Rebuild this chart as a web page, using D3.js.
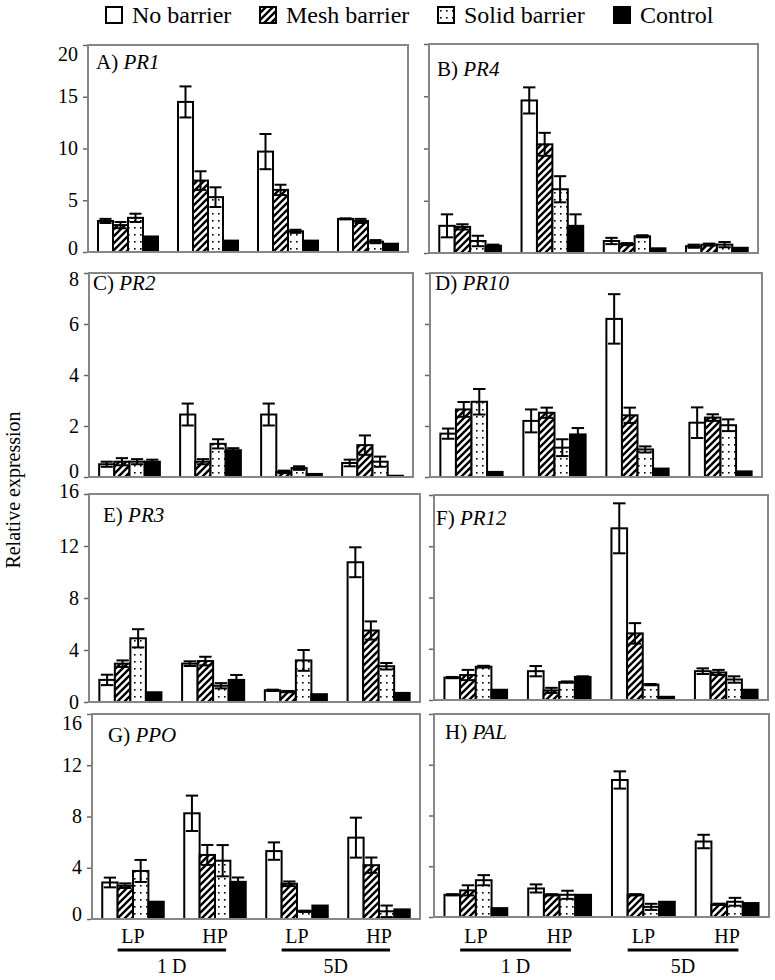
<!DOCTYPE html>
<html>
<head>
<meta charset="utf-8">
<script src="https://cdnjs.cloudflare.com/ajax/libs/d3/7.8.5/d3.min.js"></script>
<style>
body { margin: 0; background: #fff; }
svg { display: block; font-family: "Liberation Serif", "Times New Roman", serif; }
</style>
</head>
<body>
<div id="chart"></div>
<script>
var treatments = ["No barrier", "Mesh barrier", "Solid barrier", "Control"];
var groups = ["LP 1D", "HP 1D", "LP 5D", "HP 5D"];
var groupLabels = ["LP", "HP", "LP", "HP"];
var dayLabels = ["1 D", "5D"];

// rows = groups (LP 1D, HP 1D, LP 5D, HP 5D), columns = treatments
var pr1    = [[3.0, 2.6, 3.3, 1.5], [14.5, 6.9, 5.3, 1.1], [9.7, 6.0, 2.0, 1.1], [3.2, 3.0, 1.0, 0.8]];
var pr1Err = [[0.2, 0.3, 0.4, 0], [1.5, 0.9, 0.95, 0], [1.7, 0.5, 0.15, 0], [0.05, 0.2, 0.15, 0]];
var pr4    = [[2.6, 2.5, 1.15, 0.7], [14.6, 10.4, 6.1, 2.6], [1.15, 0.85, 1.6, 0.45], [0.65, 0.8, 0.8, 0.5]];
var pr4Err = [[1.1, 0.25, 0.5, 0.1], [1.25, 1.1, 1.25, 1.1], [0.3, 0.1, 0.1, 0], [0.15, 0.1, 0.25, 0]];
var pr2    = [[0.5, 0.6, 0.6, 0.6], [2.45, 0.6, 1.3, 1.05], [2.45, 0.2, 0.35, 0.12], [0.55, 1.25, 0.6, 0.05]];
var pr2Err = [[0.1, 0.14, 0.1, 0.08], [0.43, 0.1, 0.18, 0.08], [0.43, 0.05, 0.07, 0], [0.13, 0.38, 0.2, 0]];
var pr10    = [[1.7, 2.65, 2.95, 0.2], [2.2, 2.52, 1.15, 1.67], [6.2, 2.42, 1.08, 0.33], [2.13, 2.33, 2.03, 0.22]];
var pr10Err = [[0.2, 0.29, 0.5, 0], [0.45, 0.2, 0.33, 0.25], [0.97, 0.3, 0.12, 0], [0.6, 0.13, 0.23, 0]];
var pr3    = [[1.7, 2.95, 4.9, 0.75], [2.95, 3.15, 1.25, 1.7], [0.9, 0.8, 3.2, 0.6], [10.75, 5.5, 2.75, 0.7]];
var pr3Err = [[0.4, 0.25, 0.7, 0], [0.18, 0.33, 0.2, 0.38], [0.05, 0.05, 0.8, 0], [1.15, 0.7, 0.25, 0]];
var pr12    = [[1.75, 1.95, 2.6, 0.8], [2.25, 0.75, 1.4, 1.8], [13.4, 5.2, 1.2, 0.25], [2.25, 2.15, 1.6, 0.8]];
var pr12Err = [[0.05, 0.4, 0.07, 0], [0.4, 0.2, 0.05, 0.05], [1.95, 0.8, 0.05, 0], [0.22, 0.2, 0.25, 0]];
var ppo    = [[2.85, 2.6, 3.75, 1.35], [8.25, 5.0, 4.55, 2.9], [5.3, 2.75, 0.6, 1.05], [6.35, 4.2, 0.6, 0.75]];
var ppoErr = [[0.38, 0.18, 0.86, 0], [1.38, 0.78, 1.22, 0.34], [0.68, 0.18, 0.05, 0], [1.56, 0.6, 0.45, 0]];
var pal    = [[1.75, 2.1, 2.9, 0.7], [2.25, 1.75, 1.75, 1.75], [10.8, 1.75, 0.8, 1.2], [5.95, 1.0, 1.2, 1.1]];
var palErr = [[0.05, 0.4, 0.4, 0], [0.32, 0.05, 0.32, 0], [0.68, 0.05, 0.24, 0], [0.53, 0.05, 0.31, 0]];

var ticks20 = [0, 5, 10, 15, 20];
var ticks8 = [0, 2, 4, 6, 8];
var ticks16 = [0, 4, 8, 12, 16];

var width = 775, height = 980;

var svg = d3.select("#chart").append("svg")
    .attr("width", width)
    .attr("height", height);

// fill patterns
var defs = svg.append("defs");
var hatch = defs.append("pattern")
    .attr("id", "hatch")
    .attr("patternUnits", "userSpaceOnUse")
    .attr("width", 7).attr("height", 7);
hatch.append("rect").attr("width", 7).attr("height", 7).attr("fill", "#fff");
hatch.append("path")
    .attr("d", "M-1,8 L8,-1 M-2,2 L2,-2 M5,9 L9,5")
    .attr("stroke", "#000").attr("stroke-width", 2.4);

var dots = defs.append("pattern")
    .attr("id", "dots")
    .attr("patternUnits", "userSpaceOnUse")
    .attr("width", 6).attr("height", 7);
dots.append("rect").attr("width", 6).attr("height", 7).attr("fill", "#fff");
dots.append("rect").attr("x", 2).attr("y", 3).attr("width", 1.6).attr("height", 1.6).attr("fill", "#000");

var fills = ["#fff", "url(#hatch)", "url(#dots)", "#000"];

// legend
var legendX = [106, 260, 438, 614];
var legend = svg.append("g").attr("class", "legend");
treatments.forEach(function(t, i) {
    legend.append("rect")
      .attr("x", legendX[i]).attr("y", 7)
      .attr("width", 16).attr("height", 16)
      .attr("fill", fills[i])
      .attr("stroke", "#000").attr("stroke-width", 2);
    legend.append("text")
      .attr("x", legendX[i] + 26).attr("y", 23)
      .text(t)
      .style("font-size", "24px");
});

// y label
svg.append("text")
    .attr("transform", "translate(20,490) rotate(-90)")
    .attr("text-anchor", "middle")
    .text("Relative expression")
    .style("font-size", "20px");

// topShift / zeroShift nudge the end tick labels like the original figure
var panels = [
  {id: "A)", gene: "PR1",  mean: pr1,  err: pr1Err,  ticks: ticks20, x0: 88,  x1: 408, y0: 45,  y1: 252, tx: 8,  ty: 24, left: true, topShift: 9, zeroShift: -4},
  {id: "B)", gene: "PR4",  mean: pr4,  err: pr4Err,  ticks: ticks20, x0: 429, x1: 758, y0: 44,  y1: 253, tx: 8,  ty: 32, left: false},
  {id: "C)", gene: "PR2",  mean: pr2,  err: pr2Err,  ticks: ticks8,  x0: 89,  x1: 413, y0: 273, y1: 477, tx: 4,  ty: 17, left: true, topShift: 6, zeroShift: -6},
  {id: "D)", gene: "PR10", mean: pr10, err: pr10Err, ticks: ticks8,  x0: 430, x1: 762, y0: 273, y1: 477, tx: 5,  ty: 17, left: false},
  {id: "E)", gene: "PR3",  mean: pr3,  err: pr3Err,  ticks: ticks16, x0: 89,  x1: 420, y0: 494, y1: 702, tx: 14, ty: 28, left: true, topShift: -3, zeroShift: 0},
  {id: "F)", gene: "PR12", mean: pr12, err: pr12Err, ticks: ticks16, x0: 434, x1: 768, y0: 495, y1: 700, tx: 2,  ty: 30, left: false},
  {id: "G)", gene: "PPO",  mean: ppo,  err: ppoErr,  ticks: ticks16, x0: 92,  x1: 420, y0: 714, y1: 919, tx: 16, ty: 28, left: true, topShift: 9, zeroShift: -5, bottom: true},
  {id: "H)", gene: "PAL",  mean: pal,  err: palErr,  ticks: ticks16, x0: 434, x1: 769, y0: 714, y1: 917, tx: 11, ty: 25, left: false, bottom: true}
];

panels.forEach(function(p) {
    var g = svg.append("g");

    var x = d3.scaleBand()
        .domain(groups)
        .range([p.x0, p.x1])
        .paddingInner(0.25)
        .paddingOuter(0.125);
    var xs = d3.scaleBand()
        .domain(treatments)
        .range([0, x.bandwidth()]);
    var top = p.ticks[p.ticks.length - 1];
    var y = d3.scaleLinear()
        .domain([0, top])
        .range([p.y1, p.y0]);

    // flatten rows into bar records
    var bars = [];
    groups.forEach(function(gr, i) {
        treatments.forEach(function(t, j) {
            bars.push({group: gr, trt: t, j: j, v: p.mean[i][j], e: p.err[i][j]});
        });
    });

    g.selectAll(".bar")
      .data(bars)
      .enter().append("rect")
        .attr("class", "bar")
        .attr("x", function(d) { return x(d.group) + xs(d.trt); })
        .attr("y", function(d) { return y(d.v); })
        .attr("width", xs.bandwidth())
        .attr("height", function(d) { return y(0) - y(d.v); })
        .attr("fill", function(d) { return fills[d.j]; })
        .attr("stroke", "#000")
        .attr("stroke-width", 2);

    // error bars
    var eb = g.selectAll(".err")
      .data(bars.filter(function(d) { return d.e > 0; }))
      .enter().append("g")
        .attr("class", "err")
        .attr("stroke", "#000")
        .attr("stroke-width", 2);
    var cx = function(d) { return x(d.group) + xs(d.trt) + xs.bandwidth() / 2; };
    var cw = xs.bandwidth() * 0.4;
    eb.append("line")
        .attr("x1", cx).attr("x2", cx)
        .attr("y1", function(d) { return y(d.v - d.e); })
        .attr("y2", function(d) { return y(d.v + d.e); });
    eb.append("line")
        .attr("x1", function(d) { return cx(d) - cw; })
        .attr("x2", function(d) { return cx(d) + cw; })
        .attr("y1", function(d) { return y(d.v + d.e); })
        .attr("y2", function(d) { return y(d.v + d.e); });
    eb.append("line")
        .attr("x1", function(d) { return cx(d) - cw; })
        .attr("x2", function(d) { return cx(d) + cw; })
        .attr("y1", function(d) { return y(d.v - d.e); })
        .attr("y2", function(d) { return y(d.v - d.e); });

    // frame
    g.append("rect")
        .attr("x", p.x0).attr("y", p.y0)
        .attr("width", p.x1 - p.x0).attr("height", p.y1 - p.y0)
        .attr("fill", "none")
        .attr("stroke", "#868686")
        .attr("stroke-width", 2);

    // y axis
    var axis = d3.axisLeft(y)
        .tickValues(p.ticks)
        .tickSize(4)
        .tickPadding(5);
    if (!p.left) axis.tickFormat("");
    var ax = g.append("g")
        .attr("transform", "translate(" + (p.x0 - 1) + ",0)")
        .call(axis)
        .attr("font-family", null)
        .attr("font-size", null);
    ax.select(".domain").remove();
    ax.selectAll(".tick line").attr("stroke", "#666").attr("stroke-width", 1.5);
    ax.selectAll(".tick text")
        .attr("fill", "#000")
        .attr("dy", function(d) {
            var s = 0;
            if (d === top) s = p.topShift || 0;
            if (d === 0) s = p.zeroShift || 0;
            return (6 + s) + "px";
        })
        .style("font-size", "20px");

    // panel title
    var title = g.append("text")
        .attr("x", p.x0 + p.tx)
        .attr("y", p.y0 + p.ty)
        .style("font-size", "21px");
    title.append("tspan").text(p.id + " ");
    title.append("tspan").style("font-style", "italic").text(p.gene);

    // group labels under the bottom panels
    if (p.bottom) {
        groups.forEach(function(gr, i) {
            g.append("text")
              .attr("x", x(gr) + x.bandwidth() / 2)
              .attr("y", 943)
              .attr("text-anchor", "middle")
              .text(groupLabels[i])
              .style("font-size", "20px");
        });
        dayLabels.forEach(function(dl, k) {
            var a = x(groups[k * 2]) + x.bandwidth() * 0.25;
            var b = x(groups[k * 2 + 1]) + x.bandwidth() * 0.68;
            g.append("line")
              .attr("x1", a).attr("x2", b)
              .attr("y1", 950).attr("y2", 950)
              .attr("stroke", "#000")
              .attr("stroke-width", 3);
            g.append("text")
              .attr("x", (a + b) / 2)
              .attr("y", 973)
              .attr("text-anchor", "middle")
              .text(dl)
              .style("font-size", "20px");
        });
    }
});
</script>
</body>
</html>
